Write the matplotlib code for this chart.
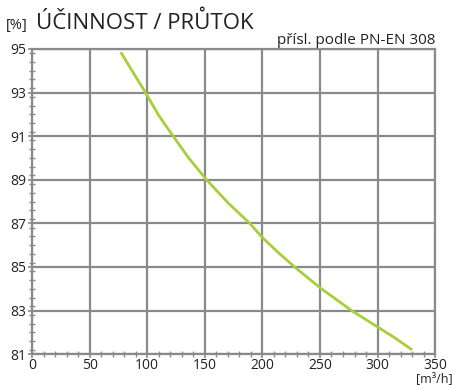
import numpy as np
import matplotlib.pyplot as plt
from matplotlib.ticker import MultipleLocator

# Účinnost rekuperace v závislosti na průtoku vzduchu
prutok = [77, 88, 98.5, 110, 122.5, 136, 151.5, 170, 189, 200, 214, 228, 250, 277.5, 300, 315, 330]
ucinnost = [94.85, 93.9, 93.0, 91.95, 91.0, 90.0, 89.0, 87.95, 87.0, 86.35, 85.65, 85.0, 84.05, 83.0, 82.25, 81.75, 81.2]

x_ticks = [0, 50, 100, 150, 200, 250, 300, 350]
y_ticks = [81, 83, 85, 87, 89, 91, 93, 95]

seda = '#8a8a8a'
zelena = '#a6cf3a'

plt.rcParams['font.family'] = ['Open Sans', 'DejaVu Sans']

fig = plt.figure(figsize=(4.54, 3.85), dpi=100)
ax = fig.add_axes([0.0705, 0.08, 0.888, 0.793])

ax.plot(prutok, ucinnost, color=zelena, lw=2.0, solid_capstyle='butt', zorder=3)

ax.set_xlim(0, 350)
ax.set_ylim(81, 95)
ax.set_xticks(x_ticks)
ax.set_yticks(y_ticks)
ax.xaxis.set_minor_locator(MultipleLocator(10))
ax.yaxis.set_minor_locator(MultipleLocator(0.4))
ax.grid(True, which='major', color=seda, lw=1.6)
for s in ax.spines.values():
    s.set_color(seda)
    s.set_linewidth(1.6)
ax.tick_params(which='major', direction='inout', length=6, width=1.2, color=seda,
               labelsize=10, pad=1, labelcolor='#222222')
ax.tick_params(axis='x', which='major', pad=0)
ax.tick_params(which='minor', direction='inout', length=5, width=1.0, color=seda)

fig.text(0.012, 0.925, '[%]', fontsize=10.5, color='#222222', va='baseline')
fig.text(0.08, 0.925, 'ÚČINNOST / PRŮTOK', fontsize=16, color='#222222', va='baseline')
fig.text(0.958, 0.885, 'přísl. podle PN-EN 308', fontsize=11, color='#222222',
         ha='right', va='baseline')
fig.text(0.997, 0.0, '[m³/h]', fontsize=9, color='#222222', ha='right', va='bottom')

fig.savefig('out.png', dpi=100)
